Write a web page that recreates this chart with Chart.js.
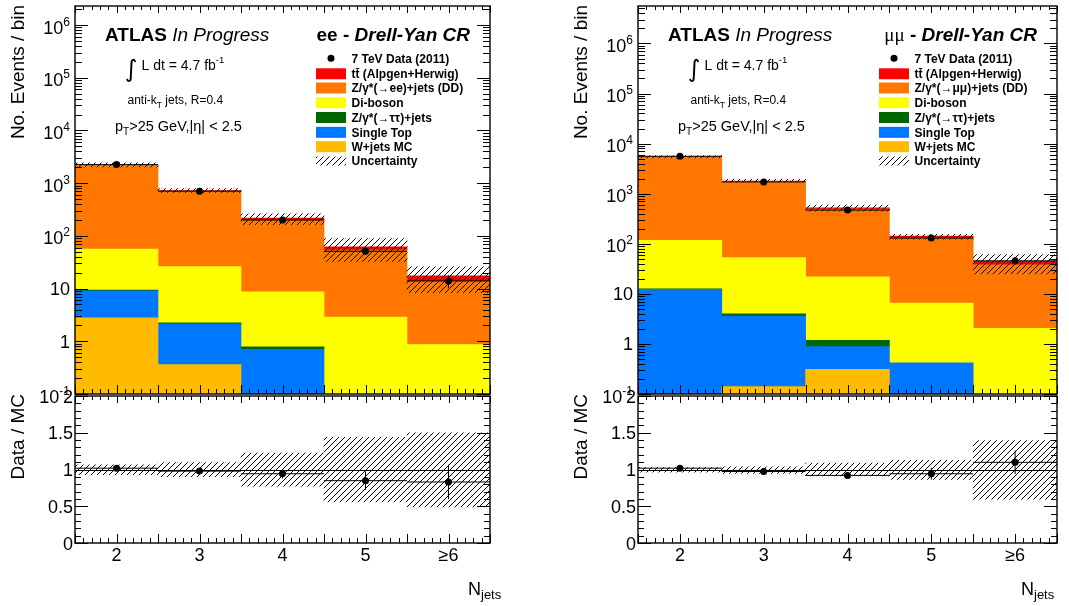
<!DOCTYPE html>
<html>
<head>
<meta charset="utf-8">
<script src="https://cdn.jsdelivr.net/npm/chart.js@4.4.1/dist/chart.umd.min.js"></script>
<style>
  body { margin: 0; background: #fff; width: 1069px; height: 606px; position: relative; overflow: hidden; }
  canvas { position: absolute; }
</style>
</head>
<body>
<canvas id="eeTop" width="535" height="410" style="left:0;top:0"></canvas>
<canvas id="eeRatio" width="535" height="226" style="left:0;top:380px"></canvas>
<canvas id="mmTop" width="534" height="410" style="left:535px;top:0"></canvas>
<canvas id="mmRatio" width="534" height="226" style="left:535px;top:380px"></canvas>
<script>
// Jet multiplicity bins
const categories = ["2", "3", "4", "5", "≥6"];

// ee channel (events / bin)
const eeWjets = [2.8, 0.36, null, null, null];
const eeSingleTop = [6.3, 1.78, 0.7, null, null];
const eeZtautau = [0.3, 0.1, 0.085, null, null];
const eeDiboson = [46.6, 23.8, 7.9, 2.87, 0.87];
const eeZjets = [2120, 674, 188, 51, 12.7];
const eeTtbar = [35, 20, 21, 8, 3.9];
const eeData = [2250, 705, 200, 51, 14];
const eeDataErr = [47, 27, 14, 7.1, 3.7];
const eeUncLow = [2040, 670, 163, 32.7, 8.4];
const eeUncHigh = [2430, 790, 261, 88.5, 26];
const eeRatio = [1.018, 0.978, 0.942, 0.848, 0.83];
const eeRatioErr = [0.03, 0.04, 0.065, 0.125, 0.235];
const eeRatioLow = [0.93, 0.902, 0.772, 0.558, 0.491];
const eeRatioHigh = [1.065, 1.094, 1.223, 1.437, 1.5];

// mumu channel
const mmWjets = [null, 0.14, 0.31, null, null];
const mmSingleTop = [12.3, 3.44, 0.57, 0.42, null];
const mmZtautau = [0.3, 0.42, 0.3, null, null];
const mmDiboson = [104, 49, 20.7, 6.1, 2.06];
const mmZjets = [5310, 1700, 472, 123.5, 36];
const mmTtbar = [50, 30, 31, 12, 6.3];
const mmData = [5580, 1720, 471, 130, 45.7];
const mmDataErr = [75, 41, 22, 11.4, 6.8];
const mmUncLow = [5170, 1710, 450, 124, 25];
const mmUncHigh = [5750, 1930, 593, 154, 61];
const mmRatio = [1.018, 0.973, 0.92, 0.942, 1.098];
const mmRatioErr = [0.02, 0.025, 0.045, 0.08, 0.16];
const mmRatioLow = [0.964, 0.946, 0.911, 0.866, 0.598];
const mmRatioHigh = [1.027, 1.036, 1.089, 1.125, 1.393];

// tick labels
const logTicks = [0.1, 1, 10, 100, 1e3, 1e4, 1e5, 1e6];
const logTickLabels = [["10", "-1"], ["1", ""], ["10", ""], ["10", "2"], ["10", "3"], ["10", "4"], ["10", "5"], ["10", "6"]];
const ratioTicks = [0, 0.5, 1, 1.5, 2];
const ratioTickLabels = ["0", "0.5", "1", "1.5", "2"];

const stackLabels = ["W+jets MC", "Single Top", "Z/γ*(→ττ)+jets", "Di-boson", null, "tt\u0304 (Alpgen+Herwig)"];
const stackColors = ["#ffbb00", "#0077ff", "#006600", "#ffff00", "#ff7700", "#ff0000"];

const SANS = '"Liberation Sans", Arial, Helvetica, sans-serif';
const font = (px, style) => (style ? style + " " : "") + px + "px " + SANS;

// hatch fill like ROOT style 3004
const hatch = (() => {
  const c = document.createElement("canvas");
  c.width = 6; c.height = 6;
  const g = c.getContext("2d");
  g.strokeStyle = "#000";
  g.lineWidth = 1;
  g.beginPath();
  g.moveTo(-1, 7); g.lineTo(7, -1);
  g.stroke();
  return g.createPattern(c, "repeat");
})();

function drawRuns(ctx, x, y, runs, align) {
  let w = 0;
  runs.forEach(r => { ctx.font = r[1]; w += ctx.measureText(r[0]).width; });
  let cx = align === "right" ? x - w : x;
  ctx.textAlign = "left";
  ctx.textBaseline = "alphabetic";
  runs.forEach(r => {
    ctx.font = r[1];
    ctx.fillText(r[0], cx, y + (r[2] || 0));
    cx += ctx.measureText(r[0]).width;
  });
}

function seg(ctx, x1, y1, x2, y2) {
  ctx.moveTo(x1, y1); ctx.lineTo(x2, y2);
}

// inward ticks on all four sides, ROOT style
function drawFrameTicks(ctx, a, xs, yMajor, yMinor, yScale, yBig, ySmall) {
  ctx.save();
  ctx.strokeStyle = "#000";
  ctx.lineWidth = 1;
  ctx.beginPath();
  const x0 = xs.getPixelForValue(0), step = xs.getPixelForValue(1) - x0;
  for (let j = 0; j <= 50; j++) {
    const v = 1.5 + j * 0.1;
    const px = Math.round(x0 + (v - 2) * step) + 0.5;
    const len = j % 5 === 0 ? 9 : 5;
    seg(ctx, px, a.bottom, px, a.bottom - len);
    seg(ctx, px, a.top, px, a.top + (j % 5 === 0 ? 7 : 4));
  }
  yMajor.forEach(v => {
    const py = Math.round(yScale.getPixelForValue(v)) + 0.5;
    seg(ctx, a.left, py, a.left + yBig, py);
    seg(ctx, a.right, py, a.right - yBig, py);
  });
  yMinor.forEach(v => {
    const py = Math.round(yScale.getPixelForValue(v)) + 0.5;
    if (py < a.top || py > a.bottom) return;
    seg(ctx, a.left, py, a.left + ySmall, py);
    seg(ctx, a.right, py, a.right - ySmall, py);
  });
  ctx.stroke();
  ctx.lineWidth = 1.4;
  ctx.strokeRect(a.left, a.top, a.right - a.left, a.bottom - a.top);
  ctx.restore();
}

function yTitle(ctx, x, y, text) {
  ctx.save();
  ctx.translate(x, y);
  ctx.rotate(-Math.PI / 2);
  ctx.font = font(19);
  ctx.fillStyle = "#000";
  ctx.textAlign = "right";
  ctx.textBaseline = "alphabetic";
  ctx.fillText(text, 0, 0);
  ctx.restore();
}

const legendRows = [58.3, 73.8, 88, 102.7, 117.5, 132.3, 146.7, 161];
const legendOrder = [0, 7, 6, 5, 4, 3, 2, 1];

function topPlugin(ch) {
  return {
    id: "topDecor",
    afterDatasetsDraw(chart) {
      const { ctx, chartArea: a, scales: { x, y } } = chart;
      const meta = chart.getDatasetMeta(0);
      const half = (x.getPixelForValue(1) - x.getPixelForValue(0)) / 2;
      ctx.save();
      ctx.beginPath(); ctx.rect(a.left, a.top, a.width, a.height); ctx.clip();
      ctx.strokeStyle = "#000"; ctx.lineWidth = 1;
      ctx.beginPath();
      meta.data.forEach((pt, i) => {
        seg(ctx, pt.x - half, pt.y, pt.x + half, pt.y);
        seg(ctx, pt.x, y.getPixelForValue(ch.data[i] - ch.err[i]), pt.x, y.getPixelForValue(ch.data[i] + ch.err[i]));
      });
      ctx.stroke();
      ctx.restore();
    },
    afterDraw(chart) {
      const { ctx, chartArea: a, scales: { x, y } } = chart;
      const L = a.left;
      const minors = [];
      for (let n = -1; n <= 6; n++) for (let k = 2; k <= 9; k++) minors.push(k * Math.pow(10, n));
      drawFrameTicks(ctx, a, x, logTicks, minors, y, 13, 7);

      ctx.save();
      ctx.fillStyle = "#000";
      // y tick labels
      logTicks.forEach((v, i) => {
        const py = y.getPixelForValue(v);
        const [base, exp] = logTickLabels[i];
        const right = L - 5;
        if (exp) {
          ctx.font = font(12); const ew = ctx.measureText(exp).width;
          ctx.font = font(18); const bw = ctx.measureText(base).width;
          drawRuns(ctx, right - ew - bw, py + 8.5, [[base, font(18)], [exp, font(12), -8]]);
        } else {
          drawRuns(ctx, right, py + 6.5, [[base, font(18)]], "right");
        }
      });
      yTitle(ctx, L - 51, 5, "No. Events / bin");

      // labels inside the frame
      drawRuns(ctx, L + 30, 40.5, [["ATLAS ", font(19, "bold")], ["In Progress", font(19, "italic")]]);
      drawRuns(ctx, a.right - 20, 40.5, ch.title, "right");
      ctx.font = '24px "DejaVu Sans", sans-serif';
      ctx.fillText("∫", L + 50, 77);
      drawRuns(ctx, L + 66.5, 70, [["L dt = 4.7 fb", font(14)], ["-1", font(9.5), -7]]);
      drawRuns(ctx, L + 52.5, 104, [["anti-k", font(12)], ["T", font(8.5), 3.5], [" jets, R=0.4", font(12)]]);
      drawRuns(ctx, L + 40, 130.5, [["p", font(14.5)], ["T", font(10), 4.5], [">25 GeV,|η| < 2.5", font(14.5)]]);

      // legend
      const bx = L + 241;
      legendOrder.forEach((di, r) => {
        const ds = chart.data.datasets[di];
        const yc = legendRows[r];
        if (ds.type === "line") {
          ctx.beginPath(); ctx.arc(L + 256, yc, 3.5, 0, Math.PI * 2); ctx.fill();
        } else if (ds.band) {
          ctx.fillStyle = hatch; ctx.fillRect(bx, yc - 4.5, 30, 9);
        } else {
          ctx.fillStyle = ds.backgroundColor; ctx.fillRect(bx, yc - 5.5, 30, 11);
        }
        ctx.fillStyle = "#000";
        drawRuns(ctx, L + 276.5, yc + 4.3, [[ds.label, font(12, "bold")]]);
      });
      ctx.restore();
    }
  };
}

function ratioPlugin(ch) {
  return {
    id: "ratioDecor",
    beforeDatasetsDraw(chart) {
      const { ctx, chartArea: a, scales: { y } } = chart;
      const py = Math.round(y.getPixelForValue(1)) + 0.5;
      ctx.save();
      ctx.strokeStyle = "#000"; ctx.lineWidth = 1;
      ctx.beginPath(); seg(ctx, a.left, py, a.right, py); ctx.stroke();
      ctx.restore();
    },
    afterDatasetsDraw(chart) {
      const { ctx, chartArea: a, scales: { x, y } } = chart;
      const meta = chart.getDatasetMeta(0);
      const half = (x.getPixelForValue(1) - x.getPixelForValue(0)) / 2;
      ctx.save();
      ctx.strokeStyle = "#000"; ctx.lineWidth = 1;
      ctx.beginPath();
      meta.data.forEach((pt, i) => {
        seg(ctx, pt.x - half, pt.y, pt.x + half, pt.y);
        seg(ctx, pt.x, y.getPixelForValue(ch.ratio[i] - ch.ratioErr[i]), pt.x, y.getPixelForValue(ch.ratio[i] + ch.ratioErr[i]));
      });
      ctx.stroke();
      ctx.restore();
    },
    afterDraw(chart) {
      const { ctx, chartArea: a, scales: { x, y } } = chart;
      const minors = [];
      for (let j = 0; j <= 20; j++) if (j % 5) minors.push(j / 10);
      drawFrameTicks(ctx, a, x, ratioTicks, minors, y, 13, 6);
      ctx.save();
      ctx.fillStyle = "#000";
      ratioTicks.forEach((v, i) => {
        drawRuns(ctx, a.left - 2, y.getPixelForValue(v) + 6.5, [[ratioTickLabels[i], font(18)]], "right");
      });
      categories.forEach((c, i) => {
        ctx.font = font(18);
        ctx.textAlign = "center";
        ctx.fillText(c, x.getPixelForValue(i), a.bottom + 18);
      });
      yTitle(ctx, a.left - 51, a.top - 2, "Data / MC");
      drawRuns(ctx, ch.njetsX, a.bottom + 52, [["N", font(18)], ["jets", font(13), 4]]);
      ctx.restore();
    }
  };
}

function build(ch) {
  const stackSets = ch.stack.map((vals, i) => ({
    type: "bar",
    label: stackLabels[i] || ch.zLabel,
    data: vals,
    backgroundColor: stackColors[i],
    borderWidth: 0
  }));
  const base = {
    responsive: false,
    animation: false,
    devicePixelRatio: 1,
    events: [],
    plugins: { legend: { display: false }, tooltip: { enabled: false }, title: { display: false } },
    datasets: { bar: { categoryPercentage: 1, barPercentage: 1 } }
  };

  new Chart(document.getElementById(ch.topId), {
    data: {
      labels: categories,
      datasets: [
        { type: "line", label: "7 TeV Data (2011)", data: ch.data, stack: "data", showLine: false,
          pointRadius: 3.5, pointBackgroundColor: "#000", pointBorderWidth: 0, borderColor: "#000" },
        { type: "bar", label: "Uncertainty", band: true, stack: "unc", grouped: false,
          data: ch.uncLow.map((lo, i) => [lo, ch.uncHigh[i]]), backgroundColor: hatch, borderWidth: 0 },
        ...stackSets
      ]
    },
    options: Object.assign({}, base, {
      layout: { padding: { left: ch.padL, right: ch.padR, top: 6, bottom: 16 } },
      scales: {
        x: { type: "category", display: false, stacked: true, offset: true },
        y: { type: "logarithmic", display: false, stacked: true, min: 0.1, max: ch.yMax }
      }
    }),
    plugins: [topPlugin(ch)]
  });

  new Chart(document.getElementById(ch.ratioId), {
    data: {
      labels: categories,
      datasets: [
        { type: "line", label: "Data / MC", data: ch.ratio, showLine: false,
          pointRadius: 3.5, pointBackgroundColor: "#000", pointBorderWidth: 0, borderColor: "#000" },
        { type: "bar", label: "Uncertainty", grouped: false,
          data: ch.ratioLow.map((lo, i) => [lo, ch.ratioHigh[i]]), backgroundColor: hatch, borderWidth: 0 }
      ]
    },
    options: Object.assign({}, base, {
      layout: { padding: { left: ch.padL, right: ch.padR, top: 16, bottom: 63 } },
      scales: {
        x: { type: "category", display: false, offset: true },
        y: { type: "linear", display: false, min: 0, max: 2 }
      }
    }),
    plugins: [ratioPlugin(ch)]
  });
}

build({
  topId: "eeTop", ratioId: "eeRatio", padL: 75, padR: 45, yMax: 2.3e6, njetsX: 468,
  stack: [eeWjets, eeSingleTop, eeZtautau, eeDiboson, eeZjets, eeTtbar],
  data: eeData, err: eeDataErr, uncLow: eeUncLow, uncHigh: eeUncHigh,
  ratio: eeRatio, ratioErr: eeRatioErr, ratioLow: eeRatioLow, ratioHigh: eeRatioHigh,
  zLabel: "Z/γ*(→ee)+jets (DD)",
  title: [["ee - ", font(19, "bold")], ["Drell-Yan CR", font(19, "bold italic")]]
});

build({
  topId: "mmTop", ratioId: "mmRatio", padL: 103, padR: 12, yMax: 5.6e6, njetsX: 486,
  stack: [mmWjets, mmSingleTop, mmZtautau, mmDiboson, mmZjets, mmTtbar],
  data: mmData, err: mmDataErr, uncLow: mmUncLow, uncHigh: mmUncHigh,
  ratio: mmRatio, ratioErr: mmRatioErr, ratioLow: mmRatioLow, ratioHigh: mmRatioHigh,
  zLabel: "Z/γ*(→μμ)+jets (DD)",
  title: [["μμ", '19px "Liberation Serif", serif'], [" - ", font(19, "bold")], ["Drell-Yan CR", font(19, "bold italic")]]
});
</script>
</body>
</html>
